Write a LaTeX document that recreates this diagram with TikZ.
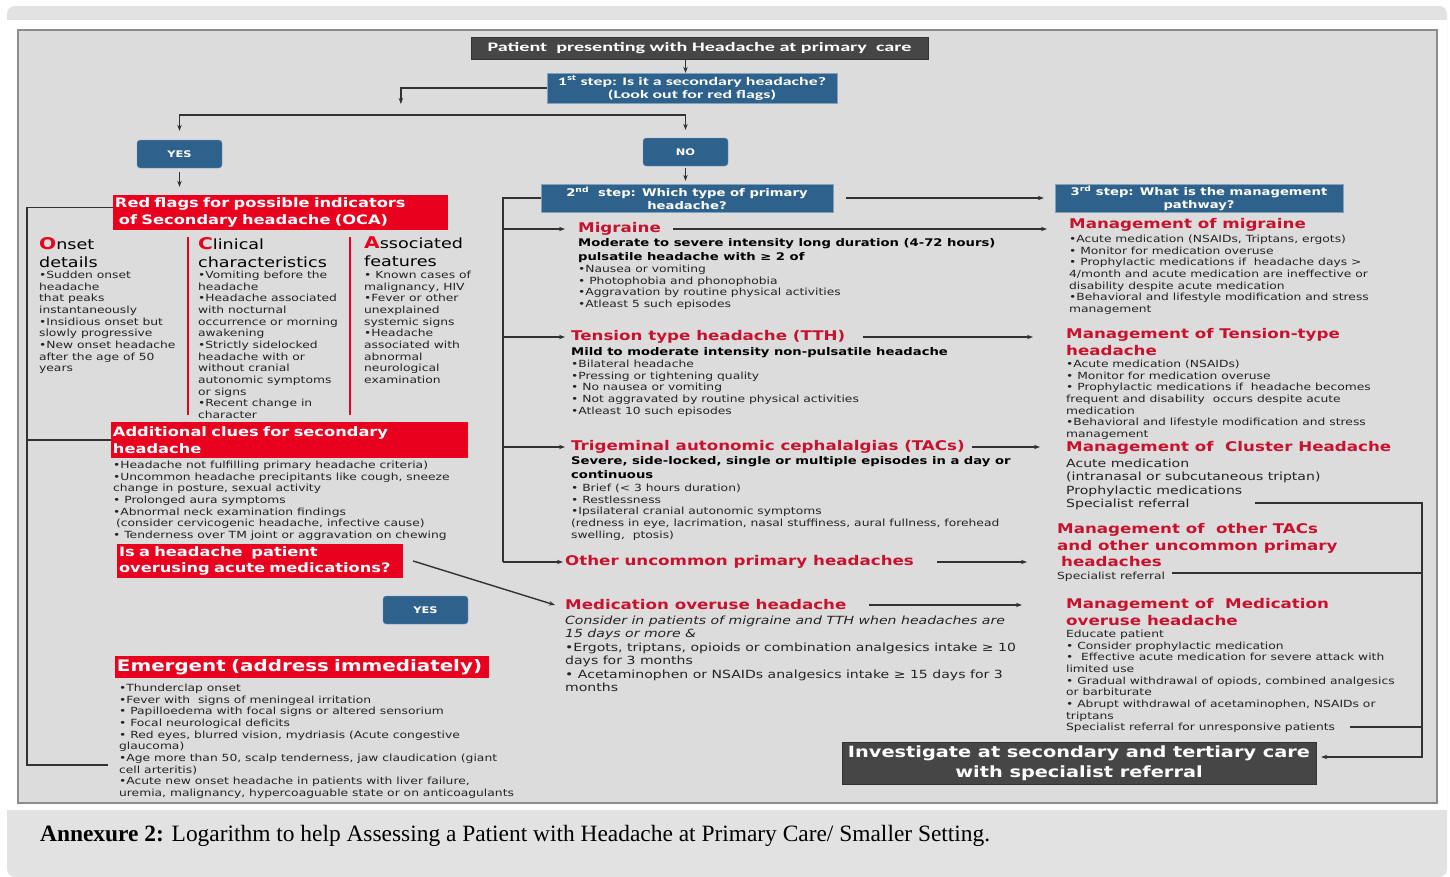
\documentclass[tikz,border=0pt]{standalone}
\usepackage{fontspec}
\setmainfont{DejaVu Sans}[FakeStretch=1.25]
\newfontfamily\calib{Carlito}[FakeStretch=1.55]
\newfontfamily\capfont{Liberation Serif}
\usetikzlibrary{arrows.meta}
\definecolor{panelgray}{RGB}{220,220,221}
\definecolor{bandgray}{RGB}{226,226,226}
\definecolor{boxred}{RGB}{232,0,30}
\definecolor{headred}{RGB}{200,18,45}
\definecolor{boxblue}{RGB}{46,98,141}
\definecolor{boxdark}{RGB}{70,70,70}
\definecolor{txtgray}{RGB}{35,35,35}
\definecolor{linegray}{RGB}{50,50,50}
\newcommand\fsz[2]{\fontsize{#1}{#2}\selectfont}

\begin{document}
\begin{tikzpicture}[x=0.5mm,y=-0.5mm,>={Stealth[length=3mm,width=2.2mm]},
  txt/.style={anchor=north west, inner sep=0, align=left, text=txtgray},
  smalltxt/.style={txt, font=\fsz{14}{16.6}},
  midtxt/.style={txt, font=\fsz{16}{19.2}},
  boldtxt/.style={txt, text=black, font=\bfseries\fsz{15}{20}},
  colhead/.style={txt, text=black, font=\fsz{20}{25.6}},
  redhead/.style={txt, text=headred, font=\bfseries\fsz{19}{23.2}},
  redbox/.style={fill=boxred, text=white, font=\bfseries\fsz{18.5}{24}, align=left, inner xsep=1mm, inner ysep=0},
  bluebox/.style={fill=boxblue, draw=boxblue!60!white, text=white, font=\bfseries\fsz{15}{18.5}, align=center, inner sep=0},
  darkbox/.style={fill=boxdark, draw=black!80, text=white, align=center, inner sep=0},
  answer/.style={bluebox, rounded corners=1.5mm, minimum width=42.5mm, minimum height=14mm, font=\bfseries\fsz{13}{15}},
  conn/.style={draw=linegray, line width=0.7mm},
  sep/.style={draw=boxred, line width=1.2mm}]

% page, panel and caption band
\useasboundingbox (0,0) rectangle (1450,877);
\fill[white] (0,0) rectangle (1450,877);
\fill[bandgray, rounded corners=4mm] (7,6) rectangle (1447,877);
\fill[white] (7,20) rectangle (1447,810);
\filldraw[fill=panelgray, draw=gray!90, line width=0.7mm] (18,30) rectangle (1437,803);

% first step
\node[darkbox, minimum width=228.5mm, minimum height=11mm, font=\calib\bfseries\fsz{18.5}{22}] (start) at (699.5,48) {Patient\ \ presenting with Headache at primary\ \ care};
\node[bluebox, minimum width=145mm, minimum height=15mm, font=\calib\bfseries\fsz{16.4}{18.5}] (step1) at (692,88) {1\textsuperscript{st} step: Is it a secondary headache?\\(Look out for red flags)};
\node[answer] (yes) at (179.5,154) {YES};
\node[answer] (no) at (685.5,152) {NO};
\node[bluebox, minimum width=146mm, minimum height=14mm] (step2) at (687,198) {2\textsuperscript{nd}\ \ step: Which type of primary\\headache?};
\node[bluebox, minimum width=144mm, minimum height=14mm] (step3) at (1199,198) {3\textsuperscript{rd} step: What is the management\\pathway?};

% secondary headache side
\node[redbox, text width=165.5mm, minimum height=17.5mm] (redflags) at (280.5,212.5) {Red flags for possible indicators\\\hspace*{.3em}of Secondary headache (OCA)};
\node[colhead] (onsethead) at (39,237) {{\color{boxred}\bfseries\fsz{23}{25.6}O}nset\\details};
\node[smalltxt] (onset) at (39,271) {•Sudden onset\\headache\\that peaks\\instantaneously\\•Insidious onset but\\slowly progressive\\•New onset headache\\after the age of 50\\years};
\node[colhead] (clinhead) at (198,237) {{\color{boxred}\bfseries\fsz{23}{25.6}C}linical\\characteristics};
\node[smalltxt] (clin) at (198,271) {•Vomiting before the\\headache\\•Headache associated\\with nocturnal\\occurrence or morning\\awakening\\•Strictly sidelocked\\headache with or\\without cranial\\autonomic symptoms\\or signs\\•Recent change in\\character};
\node[colhead] (assochead) at (364,237) {{\color{boxred}\bfseries\fsz{23}{25.6}A}ssociated\\features};
\node[smalltxt] (assoc) at (364,271) {• Known cases of\\malignancy, HIV\\•Fever or other\\unexplained\\systemic signs\\•Headache\\associated with\\abnormal\\neurological\\examination};
\draw[sep] (188,237) -- (188,415);
\draw[sep] (350,237) -- (350,415);

\node[redbox, text width=176.5mm, minimum height=18mm] (clues) at (289.5,440) {Additional clues for secondary\\headache};
\node[smalltxt] (cluelist) at (113,461) {•Headache not fulfilling primary headache criteria)\\•Uncommon headache precipitants like cough, sneeze\\change in posture, sexual activity\\• Prolonged aura symptoms\\•Abnormal neck examination findings\\\hspace*{.3em}(consider cervicogenic headache, infective cause)\\• Tenderness over TM joint or aggravation on chewing};
\node[redbox, text width=141mm, minimum height=17mm] (overuse) at (260,561) {Is a headache\ \ patient\\overusing acute medications?};
\node[answer] (yes2) at (425.5,610) {YES};
\node[redbox, text width=185mm, minimum height=11mm, font=\bfseries\fsz{22.6}{26}] (emerg) at (302,667) {Emergent (address immediately)};
\node[smalltxt] (emerglist) at (119,684) {•Thunderclap onset\\•Fever with\ \ signs of meningeal irritation\\• Papilloedema with focal signs or altered sensorium\\• Focal neurological deficits\\• Red eyes, blurred vision, mydriasis (Acute congestive\\glaucoma)\\•Age more than 50, scalp tenderness, jaw claudication (giant\\cell arteritis)\\•Acute new onset headache in patients with liver failure,\\uremia, malignancy, hypercoaguable state or on anticoagulants};

% primary headache types
\node[redhead, anchor=west] (mig) at (578,229) {Migraine};
\node[boldtxt] (migdesc) at (578,238.5) {Moderate to severe intensity long duration (4-72 hours)\\pulsatile headache with ≥ 2 of};
\node[smalltxt] (miglist) at (578,265) {•Nausea or vomiting\\• Photophobia and phonophobia\\•Aggravation by routine physical activities\\•Atleast 5 such episodes};
\node[redhead, anchor=west] (tth) at (571,337) {Tension type headache (TTH)};
\node[boldtxt] (tthdesc) at (571,347.5) {Mild to moderate intensity non-pulsatile headache};
\node[smalltxt] (tthlist) at (571,360) {•Bilateral headache\\•Pressing or tightening quality\\• No nausea or vomiting\\• Not aggravated by routine physical activities\\•Atleast 10 such episodes};
\node[redhead, anchor=west] (tacs) at (571,447) {Trigeminal autonomic cephalalgias (TACs)};
\node[boldtxt] (tacsdesc) at (571,456.5) {Severe, side-locked, single or multiple episodes in a day or\\continuous};
\node[smalltxt] (tacslist) at (571,484) {• Brief (< 3 hours duration)\\• Restlessness\\•Ipsilateral cranial autonomic symptoms\\(redness in eye, lacrimation, nasal stuffiness, aural fullness, forehead\\swelling,\ \ ptosis)};
\node[redhead, anchor=west] (other) at (565,562) {Other uncommon primary headaches};
\node[redhead, anchor=west] (moh) at (565,605) {Medication overuse headache};
\node[midtxt, font=\itshape\fsz{16}{18.5}] (mohnote) at (565,615.5) {Consider in patients of migraine and TTH when headaches are\\15 days or more \&};
\node[midtxt] (mohlist) at (565,642.5) {•Ergots, triptans, opioids or combination analgesics intake ≥ 10\\days for 3 months\\• Acetaminophen or NSAIDs analgesics intake ≥ 15 days for 3\\months};

% management column
\node[redhead, anchor=west] (mmig) at (1069,225) {Management of migraine};
\node[smalltxt] (mmiglist) at (1069,235) {•Acute medication (NSAIDs, Triptans, ergots)\\• Monitor for medication overuse\\• Prophylactic medications if\ \ headache days >\\4/month and acute medication are ineffective or\\disability despite acute medication\\•Behavioral and lifestyle modification and stress\\management};
\node[redhead] (mtth) at (1066,328.5) {Management of Tension-type\\headache};
\node[smalltxt] (mtthlist) at (1066,360) {•Acute medication (NSAIDs)\\• Monitor for medication overuse\\• Prophylactic medications if\ \ headache becomes\\frequent and disability\ \ occurs despite acute\\medication\\•Behavioral and lifestyle modification and stress\\management};
\node[redhead, anchor=west] (mclus) at (1066,448) {Management of\ \ Cluster Headache};
\node[midtxt] (mcluslist) at (1066,458.5) {Acute medication\\(intranasal or subcutaneous triptan)\\Prophylactic medications\\Specialist referral};
\node[redhead] (mother) at (1057,523.5) {Management of\ \ other TACs\\and other uncommon primary\\\hspace*{.3em}headaches};
\node[smalltxt] (motherlist) at (1057,572) {Specialist referral};
\node[redhead] (mmoh) at (1066,598.5) {Management of\ \ Medication\\overuse headache};
\node[smalltxt] (mmohlist) at (1066,630) {Educate patient\\• Consider prophylactic medication\\•\ \ Effective acute medication for severe attack with\\limited use\\• Gradual withdrawal of opiods, combined analgesics\\or barbiturate\\• Abrupt withdrawal of acetaminophen, NSAIDs or\\triptans\\Specialist referral for unresponsive patients};
\node[darkbox, minimum width=237mm, minimum height=21mm, font=\bfseries\fsz{22}{28.5}] (invest) at (1079,763) {Investigate at secondary and tertiary care\\with specialist referral};

\node[anchor=west, inner sep=0, font=\capfont\fsz{33.3}{37}] (caption) at (40,836) {\textbf{Annexure 2:} Logarithm to help Assessing a Patient with Headache at Primary Care/ Smaller Setting.};

% connectors
\draw[conn,->] ([xshift=-7mm]start.south) -- ([xshift=-7mm]start.south |- step1.north);
\draw[conn,->] (step1.west) -| ++(-73mm,-8mm);
\coordinate (split) at (430,115);
\draw[conn,<->] ([yshift=4.5mm]yes.north) |- (split) -| ([yshift=4mm]no.north);
\draw[conn,->] ([yshift=-2mm]yes.south) -- ([yshift=4mm]yes.south |- redflags.north);
\draw[conn,->] ([yshift=-1mm]no.south) -- ([yshift=1.5mm]no.south |- step2.north);
\draw[conn,->] ([xshift=6.5mm]step2.east) -- ([xshift=-5.5mm]step3.west);

\coordinate (lend) at (108,765);
\draw[conn] ([yshift=2.5mm]redflags.west) -- ++(-43mm,0) coordinate (lbus) -- (lbus |- lend) -- (lend);
\draw[conn] (lbus |- clues.west) -- (clues.west);

\draw[conn] (step2.west) -- ++(-19mm,0) coordinate (mbus) -- (mbus |- other.west);
\foreach \n/\g in {mig/6.5mm, tth/3mm, tacs/3mm, other/1mm}
  \draw[conn,->] (mbus |- \n.west) -- ([xshift=-\g]\n.west);

\draw[conn,->] ([xshift=6mm]mig.east) -- ([xshift=-11mm]mig.east -| mmig.west);
\draw[conn,->] ([xshift=9mm]tth.east) -- ([xshift=-16.5mm]tth.east -| mtth.west);
\draw[conn,->] ([xshift=3.5mm]tacs.east) -- ([xshift=-13mm]tacs.east -| mclus.west);
\draw[conn,->] ([xshift=11.5mm]other.east) -- ([xshift=-15mm]other.east -| mother.west);
\draw[conn,->] ([xshift=11mm]moh.east) -- ([xshift=-22mm]moh.east -| mmoh.west);
\draw[conn,->] ([xshift=5mm]overuse.east) -- ([xshift=-5mm]moh.west);

\coordinate (r1) at (1255,503);
\coordinate (r2) at (1172,573);
\coordinate (r3) at (1350,727);
\coordinate (rbus) at (1422,503);
\draw[conn,->] (r1) -- (rbus) |- ([xshift=2.5mm,yshift=3mm]invest.east);
\draw[conn] (r2) -- (r2 -| rbus);
\draw[conn] (r3) -- (r3 -| rbus);
\end{tikzpicture}
\end{document}
